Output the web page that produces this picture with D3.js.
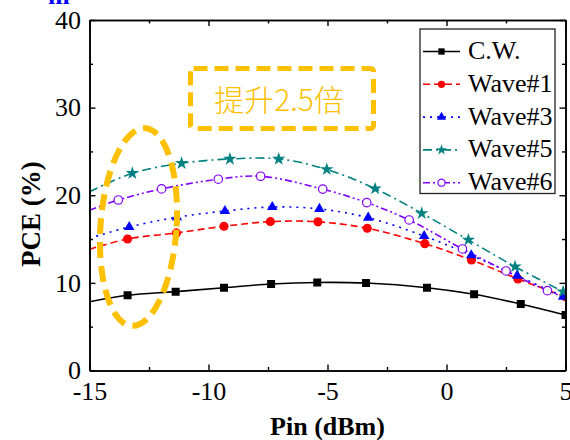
<!DOCTYPE html>
<html><head><meta charset="utf-8">
<script src="https://cdn.jsdelivr.net/npm/d3@7"></script>
<style>
html,body{margin:0;padding:0;background:#fff;}
svg{display:block;}
.serif{font-family:"Liberation Serif","Tinos","Times New Roman",Times,"DejaVu Serif","Noto Serif",serif;}
</style></head>
<body>
<svg id="chart" width="570" height="440"></svg>
<script>
// ---- data ----
const seriesNames = ["C.W.", "Wave#1", "Wave#3", "Wave#5", "Wave#6"];
const cwX    = [-13.4, -11.38, -9.35, -7.37, -5.43, -3.38, -0.82, 1.16, 3.12, 5.0];
const cwY    = [8.58, 9.0, 9.45, 9.87, 10.05, 9.98, 9.45, 8.7, 7.59, 6.34];
const w1X    = [-13.4, -11.35, -9.35, -7.4, -5.4, -3.33, -0.91, 1.05, 3.0, 5.0];
const w1Y    = [15.01, 15.7, 16.46, 16.99, 16.97, 16.23, 14.47, 12.61, 10.45, 8.42];
const w3X    = [-13.33, -11.33, -9.31, -7.32, -5.34, -3.29, -0.94, 1.04, 2.97, 4.9];
const w3Y    = [16.38, 17.49, 18.2, 18.66, 18.44, 17.44, 15.35, 13.15, 10.82, 8.42];
const w5X    = [-13.2, -11.13, -9.1, -7.05, -5.03, -3.0, -1.04, 0.92, 2.88, 4.9];
const w5Y    = [22.51, 23.65, 24.14, 24.14, 22.95, 20.75, 17.94, 14.9, 11.85, 9.0];
const w6X    = [-13.79, -11.97, -9.59, -7.81, -5.2, -3.35, -1.57, 0.67, 2.5, 4.24];
const w6Y    = [19.46, 20.72, 21.83, 22.17, 20.7, 19.16, 17.18, 13.87, 11.36, 9.11];
// fitted-curve values where each line meets the left (-15) and right (5) frame
const fitLeftY  = [7.85, 13.83, 15.1, 20.4, 18.3];
const fitRightY = [null, null, null, null, 8.3];
const xTicks = [-15, -10, -5, 0, 5];
const yTicks = [0, 10, 20, 30, 40];
const xMinor = [-12.5, -7.5, -2.5, 2.5];
const yMinor = [5, 15, 25, 35];
const annotation = "提升2.5倍";

// ---- layout ----
const svg = d3.select("#chart");
const L = 89.5, R = 565.5, T = 20, B = 370.5;
const x = d3.scaleLinear().domain([-15, 5]).range([L, R]);
const y = d3.scaleLinear().domain([0, 40]).range([B, T]);
const fmt = d => String(d);

const styles = [
  {color: "#000000", dash: null, sym: d3.symbolSquare, size: 64, fill: "#000000", lsize: 40},
  {color: "#ff0000", dash: "7,4", sym: d3.symbolCircle, size: 66, fill: "#ff0000", lsize: 42},
  {color: "#0000ff", dash: "2,5", sym: d3.symbolTriangle, size: 48, fill: "#0000ff", lsize: 36},
  {color: "#008080", dash: "9,4,2,4", sym: d3.symbolStar, size: 55, fill: "#008080", lsize: 36},
  {color: "#8000ff", dash: "7,3,2,3,2,3", sym: d3.symbolCircle, size: 56, fill: "#ffffff", lsize: 40}
];
const xs = [cwX, w1X, w3X, w5X, w6X];
const ys = [cwY, w1Y, w3Y, w5Y, w6Y];

const series = seriesNames.map((n, i) => {
  const pts = xs[i].map((v, j) => ({x: v, y: ys[i][j]}));
  const curve = [{x: -15, y: fitLeftY[i]}].concat(pts);
  if (fitRightY[i] != null) curve.push({x: 5, y: fitRightY[i]});
  return {name: n, pts, curve, st: styles[i]};
});

svg.append("defs").append("clipPath").attr("id", "clip")
  .append("rect").attr("x", L).attr("y", T).attr("width", R - L).attr("height", B - T);

// lines
const line = d3.line().x(d => x(d.x)).y(d => y(d.y)).curve(d3.curveCatmullRom.alpha(0.5));
const gPlot = svg.append("g").attr("clip-path", "url(#clip)");
series.forEach(s => {
  gPlot.append("path").attr("d", line(s.curve))
    .attr("fill", "none").attr("stroke", s.st.color).attr("stroke-width", 1.6)
    .attr("stroke-dasharray", s.st.dash);
});
series.forEach(s => {
  gPlot.selectAll(null).data(s.pts).enter().append("path")
    .attr("d", d3.symbol().type(s.st.sym).size(s.st.size))
    .attr("transform", d => `translate(${x(d.x)},${y(d.y)})`)
    .attr("fill", s.st.fill).attr("stroke", s.st.color)
    .attr("stroke-width", s.st.fill === "#ffffff" ? 1.2 : 0);
});

// axes
function styleAxis(g) {
  g.attr("font-family", null).attr("font-size", null);
  g.selectAll("path.domain").attr("stroke", "#000").attr("stroke-width", 1.6);
  g.selectAll(".tick line").attr("stroke", "#000").attr("stroke-width", 1.4);
  g.selectAll("text").attr("class", "serif").style("font-size", "26px").attr("fill", "#000");
}
const xb = svg.append("g").attr("transform", `translate(0,${B})`)
  .call(d3.axisBottom(x).tickValues(xTicks).tickFormat(fmt).tickSizeInner(-6).tickSizeOuter(0).tickPadding(11));
styleAxis(xb);
const xbm = svg.append("g").attr("transform", `translate(0,${B})`)
  .call(d3.axisBottom(x).tickValues(xMinor).tickFormat("").tickSizeInner(-3.5).tickSizeOuter(0));
styleAxis(xbm);
const yl = svg.append("g").attr("transform", `translate(${L},0)`)
  .call(d3.axisLeft(y).tickValues(yTicks).tickFormat(fmt).tickSizeInner(-6).tickSizeOuter(0).tickPadding(8.5));
styleAxis(yl);
const ylm = svg.append("g").attr("transform", `translate(${L},0)`)
  .call(d3.axisLeft(y).tickValues(yMinor).tickFormat("").tickSizeInner(-3.5).tickSizeOuter(0));
styleAxis(ylm);
const xt = svg.append("g").attr("transform", `translate(0,${T})`)
  .call(d3.axisTop(x).tickValues(xTicks).tickFormat("").tickSizeInner(-6).tickSizeOuter(0));
styleAxis(xt);
const xtm = svg.append("g").attr("transform", `translate(0,${T})`)
  .call(d3.axisTop(x).tickValues(xMinor).tickFormat("").tickSizeInner(-3.5).tickSizeOuter(0));
styleAxis(xtm);
const yr = svg.append("g").attr("transform", `translate(${R},0)`)
  .call(d3.axisRight(y).tickValues(yTicks).tickFormat("").tickSizeInner(-6).tickSizeOuter(0));
styleAxis(yr);
const yrm = svg.append("g").attr("transform", `translate(${R},0)`)
  .call(d3.axisRight(y).tickValues(yMinor).tickFormat("").tickSizeInner(-3.5).tickSizeOuter(0));
styleAxis(yrm);

// axis titles
svg.append("text").attr("class", "serif").attr("x", (L + R) / 2).attr("y", 435).attr("text-anchor", "middle")
  .style("font-weight", "bold").style("font-size", "26px").text("Pin (dBm)");
svg.append("text").attr("class", "serif").attr("transform", `translate(40,${(B + T) / 2 + 19}) rotate(-90)`)
  .attr("text-anchor", "middle")
  .style("font-weight", "bold").style("font-size", "27px").text("PCE (%)");
// clipped label fragment at top-left
svg.append("text").attr("class", "serif").attr("x", 48).attr("y", 4)
  .style("font-weight", "bold").style("font-size", "26px").attr("fill", "#0000ff").text("m");

// legend
const lg = svg.append("g");
lg.append("rect").attr("x", 420).attr("y", 29).attr("width", 135).attr("height", 164.5)
  .attr("fill", "#fff").attr("stroke", "#222").attr("stroke-width", 1.3);
series.forEach((s, i) => {
  const cy = 51.5 + i * 32.8;
  lg.append("line").attr("x1", 423).attr("x2", 460).attr("y1", cy).attr("y2", cy)
    .attr("stroke", s.st.color).attr("stroke-width", 1.6).attr("stroke-dasharray", s.st.dash);
  lg.append("path").attr("d", d3.symbol().type(s.st.sym).size(s.st.lsize))
    .attr("transform", `translate(441.5,${cy})`)
    .attr("fill", s.st.fill).attr("stroke", s.st.color)
    .attr("stroke-width", s.st.fill === "#ffffff" ? 1.2 : 0);
  lg.append("text").attr("class", "serif").attr("x", 468).attr("y", cy + 7.5)
    .style("font-size", "26px").attr("fill", "#000").text(s.name);
});

// annotations
const orange = "#ffc000";
svg.append("ellipse").attr("cx", 138.5).attr("cy", 227).attr("rx", 38).attr("ry", 99)
  .attr("transform", "rotate(4,138.5,227)")
  .attr("fill", "none").attr("stroke", orange).attr("stroke-width", 6)
  .attr("stroke-dasharray", "16,8");
svg.append("rect").attr("x", 190.5).attr("y", 68.5).attr("width", 183).attr("height", 60).attr("rx", 3)
  .attr("fill", "none").attr("stroke", orange).attr("stroke-width", 5)
  .attr("stroke-dasharray", "14,7");
svg.append("text").attr("x", 279).attr("y", 111).attr("text-anchor", "middle")
  .style("font-family", "'Noto Sans CJK SC','Noto Sans',sans-serif").style("font-weight", "300")
  .style("font-size", "30px").attr("fill", orange).text(annotation);
</script>
</body></html>
